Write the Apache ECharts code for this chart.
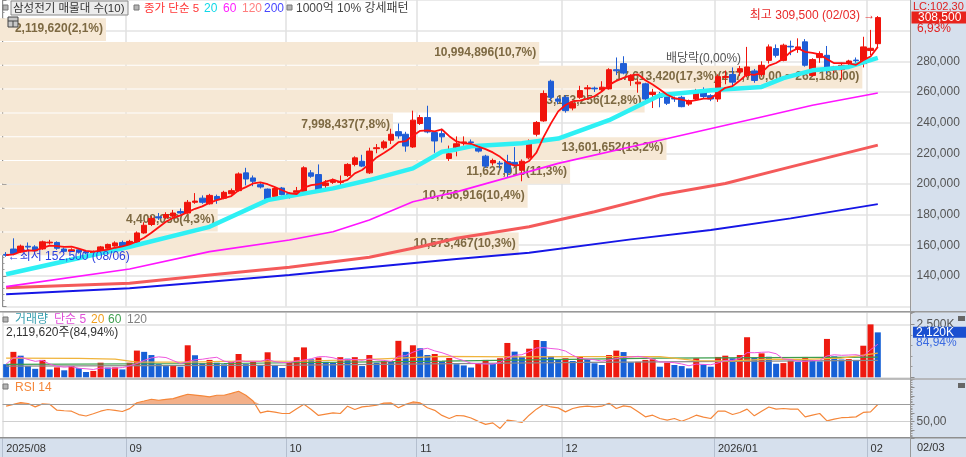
<!DOCTYPE html>
<html><head><meta charset="utf-8">
<script src="https://cdn.jsdelivr.net/npm/echarts@6/dist/echarts.min.js"></script>
<style>
html,body{margin:0;padding:0;background:#fff}
#c{width:966px;height:457px;
background:linear-gradient(#d6e0ed,#d6e0ed) right top/55.5px 100% no-repeat,linear-gradient(#d6e0ed,#d6e0ed) left bottom/100% 19px no-repeat,#fff;}
</style>
</head><body><div id="c"></div>
<script>
// ---------- DATA ----------
const monthTickLabels = ['2025/08','09','10','11','12','2026/01','02'];
const monthKeys = ['2025/08','2025/09','2025/10','2025/11','2025/12','2026/01','2026/02'];
const tradingDays = [
  [6,7,8,11,12,13,14,18,19,20,21,22,25,26,27,28,29],
  [1,2,3,4,5,8,9,10,11,12,15,16,17,18,19,22,23,24,25,26,29,30],
  [1,2,10,13,14,15,16,17,20,21,22,23,24,27,28,29,30,31],
  [3,4,5,6,7,10,11,12,13,14,17,18,19,20,21,24,25,26,27,28],
  [1,2,3,4,5,8,9,10,11,12,15,16,17,18,19,22,23,24,26,29,30],
  [2,5,6,7,8,9,12,13,14,15,16,19,20,21,22,23,26,27,28,29,30],
  [2,3]
];
const opens = [154000,157500,155600,159300,158900,157600,161500,161800,157500,156000,157000,155500,155000,156300,158000,159500,161800,158500,161500,168000,
173500,178500,178000,179000,182000,181000,188000,190700,187000,191800,190700,193600,195600,207200,203900,199500,196600,191800,197300,193600,
194500,195100,207200,206100,198900,201000,201000,205500,212700,214800,207200,223000,223600,228500,234100,232400,224100,239400,243300,233500,
232800,216600,222600,226800,227400,224700,218100,213700,213500,214500,214000,209000,217000,232400,241100,267000,255400,256500,249500,256500,
262000,262500,261400,262000,274500,278500,267500,265300,265300,258300,257600,257600,255800,256500,252100,255400,260900,257600,255400,269500,
271400,273000,270800,273700,271400,280600,288300,280600,289800,287700,292700,270800,282400,283900,274100,274500,278500,280800,278500,287000,291500];
const closes = [153500,154500,159400,158800,156300,162200,162000,158000,156000,157000,155500,155000,155800,158900,160500,161500,159500,162500,168000,173000,
177500,177800,180000,181000,181000,188000,188800,188000,192500,189700,194500,195600,206500,203200,201700,198000,189500,197000,193000,192000,
195500,210500,205000,195800,200600,202400,201700,212700,217000,211600,221400,223600,227400,232400,231300,224700,241600,243300,233900,228000,
230700,219700,226200,227400,227000,221400,211600,215300,213000,207500,212500,214800,227000,240100,259000,256500,254000,247800,252600,260900,
262700,262000,263100,274500,273800,272300,270100,266400,255400,259800,256500,252600,255400,250400,254300,260900,257000,255400,270000,270100,
266400,275200,276300,267500,277400,289400,283900,290500,289400,289400,277400,281100,285000,274100,276300,277400,280200,280400,289400,288500,308500];
const highs = [155500,164500,160400,161800,160000,163000,163500,162500,158500,158000,157500,156500,156500,159500,161000,162500,163000,163500,169000,175000,
179000,181000,181500,183000,184000,189500,194000,192500,193500,193000,195500,197000,207500,210500,205500,200500,197000,198000,198000,194500,
198000,211500,209000,212700,202500,203500,205500,213500,218000,219000,223600,226000,228500,236000,239400,234000,247800,245000,251000,234500,
236000,225000,231000,231000,229000,226000,219000,216500,215000,219000,224000,216000,229000,241000,261000,268000,256500,258000,254000,264000,
264500,263500,267000,275500,282500,283300,271500,268500,266000,262000,260000,258500,257000,257500,255000,262000,263000,258500,271500,274000,
276000,277000,289400,275000,280000,291000,291000,291500,293500,295000,294500,282000,286500,290000,277000,279000,281000,282500,296000,300500,309500];
const lows = [152500,153500,155000,156600,155800,157000,160500,157000,155000,155500,154500,154000,154200,155800,157500,159000,159000,158000,161000,167500,
172500,176500,177000,178000,180000,180500,187000,187000,186500,187000,190000,193000,195000,199000,198500,197000,188500,191000,192500,190500,
193500,194500,204000,195000,195500,200000,197500,204500,211500,211000,206500,220000,222500,226000,229500,221000,223500,238500,233000,220300,
227000,215000,218000,225000,225500,220500,210500,212000,210000,204000,211000,201700,216000,231000,240500,254000,252000,246500,248000,255500,
257000,260000,260500,261500,271000,271500,264000,259500,253000,249500,250000,251500,253500,250000,251000,254500,255500,254000,253500,265000,
262000,270500,269500,266000,270000,278500,282500,280000,284000,285500,276500,270000,279000,272000,272500,268000,276000,278000,276000,284000,289000];
// volume, thousand shares
const volumes = [620,1200,1020,530,400,820,370,470,330,530,430,250,300,690,460,470,370,690,1260,1200,
1050,620,530,550,500,1510,1040,660,820,690,610,720,1100,620,730,580,1180,560,440,720,
950,1410,850,930,730,690,950,880,950,530,1050,690,760,730,1720,1200,1510,1370,1050,1100,
760,910,620,560,460,660,820,630,900,1620,1210,970,1350,1760,1710,1000,820,900,770,960,
850,660,580,1050,1260,1190,710,730,820,850,500,690,580,530,420,900,610,500,960,1020,
900,1050,1890,930,1130,970,640,670,780,720,960,800,750,1810,990,840,860,820,1490,2495.5,2119.62];
const rsi14 = [67.9,70,72.2,71.1,67.1,70.6,70.2,63.2,62.5,62,58,56.3,59,62,64,63,61.6,65,72,74,
76.1,74.9,76,76.8,79.5,82,81,80,79,80.8,80.8,83,85.5,80.8,74,60,62,61,59.3,59.3,
65,70.2,64,57,58.5,60,59.3,67.9,64,67.1,68,69,71.5,71.8,66,70,72.9,71.8,66,63,
57,53.4,56.9,56.5,54,50,46.4,48.2,41.6,51.4,50.2,48.7,57.3,64.4,69.9,67,65.9,61.2,65.2,67,
67.9,67,67.9,71.4,65.2,68.2,67,61.2,55.3,57.3,53.4,51.4,53.4,50.2,53.4,57.3,55,53.4,62,62,
58.1,60.5,64.4,56.5,62,67,64.4,65.2,64.4,64.4,55.3,57.3,59.3,50.6,52.6,54.3,54.7,55.3,60.5,61.2,69.9];
// moving-average lines: [candle index, value]
const ma20Pts = [[0,141000],[17,159000],[28,172000],[36,189400],[45,197100],[50,202500],[56,210100],[60,221000],[62,222500],[64,224500],[71,226500],[76,229600],[83,241600],[90,257800],[97,261100],[104,263300],[107,269000],[111,274100],[116,276300],[120,282200]];
const ma60Pts = [[0,132950],[17,144500],[28,155800],[39,163400],[45,168800],[50,176400],[56,188300],[62,194800],[76,213400],[90,228500],[104,243700],[111,251300],[120,259300]];
const ma120Pts = [[0,132300],[17,135200],[28,140600],[39,145600],[50,152100],[57,159000],[62,164500],[72,172000],[81,181800],[90,192700],[99,200300],[108,211100],[120,225300]];
const ma200Pts = [[0,128000],[17,131900],[28,136200],[39,140600],[50,145600],[62,151000],[72,155100],[86,163800],[97,169900],[108,177500],[120,186800]];
const vma20Pts = [[0,900],[10,890],[15,860],[18,720],[25,720],[32,760],[40,756],[50,850],[60,990],[70,960],[80,974],[90,972],[95,790],[100,773],[105,860],[110,842],[115,900],[120,1136]];
const vma60Pts = [[0,610],[30,650],[60,760],[90,900],[120,950]];
const vma120Pts = [[0,530],[40,570],[80,700],[120,800]];
// price volume profile (bottom -> top)
const profileEdges = [153400,168940,184480,200020,215560,231100,246640,262180,277720,293260,308800];
const profileVolumes = [10573467,4408056,10756916,11627015,13601652,7998437,13153256,17613420,10994896,2119620];
const profilePcts = ['10,3%','4,3%','10,4%','11,3%','13,2%','7,8%','12,8%','17,3%','10,7%','2,1%'];
const dividendIndex = 96;
const padCategories = 4;

// ---------- BUILD ----------
const FONT = '"Liberation Sans","Noto Sans CJK KR",sans-serif';
const fmt = n => Math.round(n).toLocaleString('en-US');
const categories = [];
const monthStart = new Map();
tradingDays.forEach((days, m) => {
  monthStart.set(categories.length, monthTickLabels[m]);
  days.forEach(d => categories.push(monthKeys[m] + '/' + String(d).padStart(2, '0')));
});
const N = categories.length;
for (let i = 0; i < padCategories; i++) categories.push('');
const isMonthStart = i => monthStart.has(i);

const candleData = opens.map((o, i) => [o, closes[i], lows[i], highs[i]]);
const avgN = (arr, n) => arr.map((v, i) => { const s = arr.slice(Math.max(0, i - n + 1), i + 1); return s.reduce((a, b) => a + b, 0) / s.length; });
const ma5 = avgN(closes, 5);
const vma5 = avgN(volumes, 5);
const UP = '#f0140c', DOWN = '#1f5dd6';
const volData = volumes.map((v, i) => ({ value: v, itemStyle: { color: (i > 0 && v > volumes[i - 1]) ? '#ee1a10' : '#1660d6' } }));
const rsiBase = rsi14.map(() => 70);
const rsiOver = rsi14.map(r => Math.max(r - 70, 0));

const maxIdx = profileVolumes.indexOf(Math.max(...profileVolumes));
const profileData = profileVolumes.map((v, k) => {
  let txt = fmt(v) + '(' + profilePcts[k] + ')';
  if (k === maxIdx) txt += '(' + fmt(profileEdges[k + 1]) + ',00 ~ ' + fmt(profileEdges[k]) + ',00)';
  return { value: [profileEdges[k], profileEdges[k + 1], v], label: txt };
});

const chart = echarts.init(document.getElementById('c'), null, { renderer: 'canvas' });
const catAxis = (gi, extra) => Object.assign({
  type: 'category', gridIndex: gi, data: categories, boundaryGap: true,
  axisLine: { show: false }, axisTick: { show: false }, axisLabel: { show: false },
  splitLine: { show: true, interval: i => isMonthStart(i), lineStyle: { color: '#e0e0e0', width: 1.5 } }
}, extra || {});
const valAxisCommon = {
  position: 'right', axisLine: { show: true, lineStyle: { color: '#8c8c8c' } },
  axisTick: { show: true, length: 4, lineStyle: { color: '#8c8c8c' } },
  minorTick: { show: true, splitNumber: 5, length: 2, lineStyle: { color: '#9a9a9a' } }
};
const lbl = (f) => ({ formatter: f, color: '#555', fontSize: 12, margin: 6, fontFamily: FONT });
const sparseLine = (name, pts, xi, yi, color, width, z) => ({
  name, type: 'line', xAxisIndex: xi, yAxisIndex: yi, data: pts, showSymbol: false, symbol: 'none',
  smooth: false, lineStyle: { color, width }, z: z || 4, silent: true
});

const option = {
  animation: false,
  grid: [
    { left: 2.5, right: 55.5, top: 0, height: 306.5, outerBoundsMode: 'none' },
    { left: 2.5, right: 55.5, top: 312, height: 65.3, outerBoundsMode: 'none' },
    { left: 2.5, right: 55.5, top: 379, height: 59.3, outerBoundsMode: 'none' }
  ],
  xAxis: [
    catAxis(0), catAxis(1),
    catAxis(2, {
      axisLabel: { show: true, interval: i => isMonthStart(i), formatter: (v, i) => monthStart.get(i) || '',
        align: 'left', color: '#333', fontSize: 11, margin: 5, fontFamily: FONT },
      axisTick: { show: true, interval: i => isMonthStart(i), length: 19, lineStyle: { color: '#b4bfcf' } }
    }),
    { type: 'value', gridIndex: 0, min: 0, max: 18600000, show: false, position: 'top' }
  ],
  yAxis: [
    Object.assign({ type: 'value', gridIndex: 0, min: 120000, max: 320000, interval: 20000,
      axisLabel: lbl(v => (v >= 140000 && v <= 280000) ? fmt(v) : ''),
      splitLine: { show: true, lineStyle: { color: '#e3e3e3', width: 1.5 } } }, valAxisCommon),
    Object.assign({ type: 'value', gridIndex: 1, min: 0, max: 3080, interval: 2500,
      axisLabel: lbl(v => v === 2500 ? '2,500K' : ''),
      splitLine: { show: true, lineStyle: { color: '#e0e0e0', width: 1.5 } } }, valAxisCommon),
    Object.assign({ type: 'value', gridIndex: 2, min: 30, max: 100, interval: 10,
      axisLabel: lbl(v => v === 50 ? '50,00' : ''), splitLine: { show: false } }, valAxisCommon)
  ],
  series: [
    {
      type: 'custom', name: 'profile', xAxisIndex: 3, yAxisIndex: 0, clip: false, z: 1, silent: true,
      encode: { x: 2, y: [0, 1] },
      data: profileData,
      renderItem: (params, api) => {
        const lo = api.value(0), hi = api.value(1), v = api.value(2);
        const pTop = api.coord([v, hi]);
        const pBot = api.coord([0, lo]);
        const x0 = params.coordSys.x - 2.5;
        const item = profileData[params.dataIndex];
        return { type: 'group', children: [
          { type: 'rect', shape: { x: x0, y: pTop[1] + 1, width: pTop[0] - x0, height: pBot[1] - pTop[1] - 1 },
            style: { fill: '#f6e8d5' } },
          { type: 'text', style: { text: item.label, x: pTop[0] - 3, y: (pTop[1] + pBot[1]) / 2,
            align: 'right', verticalAlign: 'middle', fill: '#7d6942', font: 'bold 12px ' + FONT } }
        ] };
      }
    },
    {
      type: 'candlestick', name: 'price', xAxisIndex: 0, yAxisIndex: 0, data: candleData, barWidth: 6, z: 3,
      itemStyle: { color: UP, color0: DOWN, borderColor: UP, borderColor0: DOWN, borderWidth: 1 },
      markPoint: {
        symbol: 'circle', symbolSize: 1, itemStyle: { color: 'rgba(0,0,0,0)' }, silent: true,
        data: [
          { coord: [categories[N - 1], Math.max(...highs)],
            label: { show: true, position: 'left', distance: 2, formatter: '최고 ' + fmt(Math.max(...highs)) + ' (02/03) →', color: '#e82828', fontSize: 12, fontFamily: FONT } },
          { coord: [categories[0], Math.min(...lows)],
            label: { show: true, position: 'right', distance: 1, formatter: '←최저 ' + fmt(Math.min(...lows)) + ' (08/06)', color: '#2a3fe0', fontSize: 12, fontFamily: FONT } },
          { coord: [categories[dividendIndex], highs[dividendIndex]],
            label: { show: true, position: 'top', distance: 22, formatter: '배당락(0,00%)', color: '#555', fontSize: 12, fontFamily: FONT } }
        ]
      }
    },
    sparseLine('MA200', ma200Pts, 0, 0, '#1616e6', 2, 4),
    sparseLine('MA120', ma120Pts, 0, 0, '#f45a5a', 3, 4),
    sparseLine('MA60', ma60Pts, 0, 0, '#ff14ff', 1.6, 4),
    sparseLine('MA20', ma20Pts, 0, 0, '#2ef0f4', 4.5, 4),
    { name: 'MA5', type: 'line', xAxisIndex: 0, yAxisIndex: 0, data: ma5, showSymbol: false, symbol: 'none',
      lineStyle: { color: '#ff1010', width: 1.8 }, z: 5, silent: true },
    { name: 'volume', type: 'bar', xAxisIndex: 1, yAxisIndex: 1, data: volData, barWidth: 6, z: 2, silent: true },
    sparseLine('VMA120', vma120Pts, 1, 1, '#8a8a8a', 1.2, 4),
    sparseLine('VMA60', vma60Pts, 1, 1, '#3c9e4c', 1.2, 4),
    sparseLine('VMA20', vma20Pts, 1, 1, '#f0b43c', 1.2, 4),
    { name: 'VMA5', type: 'line', xAxisIndex: 1, yAxisIndex: 1, data: vma5, showSymbol: false, symbol: 'none',
      lineStyle: { color: '#ee55dd', width: 1 }, z: 5, silent: true },
    { name: 'rsiBase', type: 'line', xAxisIndex: 2, yAxisIndex: 2, data: rsiBase, stack: 'r', showSymbol: false, symbol: 'none',
      lineStyle: { width: 0, opacity: 0 }, silent: true, z: 2 },
    { name: 'rsiOver', type: 'line', xAxisIndex: 2, yAxisIndex: 2, data: rsiOver, stack: 'r', showSymbol: false, symbol: 'none',
      lineStyle: { width: 0, opacity: 0 }, areaStyle: { color: '#f3b089', opacity: 1 }, silent: true, z: 2 },
    { name: 'RSI', type: 'line', xAxisIndex: 2, yAxisIndex: 2, data: rsi14, showSymbol: false, symbol: 'none',
      lineStyle: { color: '#f5873a', width: 1.2 }, z: 4, silent: true,
      markLine: { silent: true, symbol: 'none', label: { show: false },
        data: [ { yAxis: 70, lineStyle: { color: '#9c9c9c', width: 1.2, type: 'solid' } },
                { yAxis: 50, lineStyle: { color: '#d0d0d0', width: 1, type: 'solid' } } ] } }
  ]
};
chart.setOption(option);

// ---------- TEXT / FRAME ----------
const last = closes[N - 1], prev = closes[N - 2];
const pct = ((last / prev - 1) * 100).toFixed(2).replace('.', ',') + '%';
const yLast = chart.convertToPixel({ yAxisIndex: 0 }, last);
const yVol = chart.convertToPixel({ yAxisIndex: 1 }, volumes[N - 1]);
const volPct = (volumes[N - 1] / volumes[N - 2] * 100).toFixed(2).replace('.', ',') + '%';
const T = (text, x, y, fill, size) => ({ type: 'text', z: 56, style: { text, x, y, fill, font: (size || 12) + 'px ' + FONT, verticalAlign: 'middle' } });
const sq = (x, y) => ({ type: 'rect', z: 50, shape: { x, y, width: 5, height: 5 }, style: { fill: '#b5b5b5', stroke: '#777', lineWidth: 1 } });
const hl = (y, color, w) => ({ type: 'line', z: 60, shape: { x1: 0, y1: y, x2: 966, y2: y }, style: { stroke: color, lineWidth: w } });

chart.setOption({ graphic: [
  hl(311.7, '#999', 1.5), hl(379, '#aaa', 1.5), hl(437.8, '#8f8f8f', 1.5),
  { type: 'line', z: 60, shape: { x1: 910.5, y1: 0, x2: 910.5, y2: 457 }, style: { stroke: '#999', lineWidth: 1 } },
  // top legend
  sq(3, 5),
  { type: 'rect', z: 49, shape: { x: 11, y: 1, width: 117, height: 14 }, style: { fill: '#ececec', stroke: '#8a8a8a', lineWidth: 1 } },
  T('삼성전기 매물대 수(10)', 13, 8.5, '#333', 11.5),
  sq(134, 5),
  T('종가 단순 5', 144, 8.5, '#ff3535', 11.5),
  T('20', 204, 8.5, '#10d8e8'),
  T('60', 223, 8.5, '#ff20ff'),
  T('120', 242, 8.5, '#ff7f7f'),
  T('200', 264, 8.5, '#4848ff'),
  sq(287, 5),
  T('1000억 10% 강세패턴', 296, 8.5, '#444'),
  { type: 'rect', z: 50, shape: { x: 8, y: 17, width: 10, height: 10 }, style: { fill: '#c8c8c8', stroke: '#444', lineWidth: 1 } },
  { type: 'line', z: 51, shape: { x1: 8, y1: 21, x2: 18, y2: 21 }, style: { stroke: '#444', lineWidth: 1 } },
  { type: 'line', z: 51, shape: { x1: 13, y1: 21, x2: 13, y2: 27 }, style: { stroke: '#444', lineWidth: 1 } },
  // volume legend
  sq(3, 317),
  T('거래량', 15, 320, '#3aa0b0'),
  T('단순 5', 54, 320, '#e050d8'),
  T('20', 91, 320, '#f0a020'),
  T('60', 108, 320, '#40a050'),
  T('120', 127, 320, '#808080'),
  T(fmt(volumes[N - 1] * 1000) + '주(' + volPct + ')', 6, 332.5, '#333'),
  // RSI legend
  sq(3, 384),
  T('RSI 14', 15, 387.5, '#f5873a'),
  // right panel: price
  T('LC:102,30', 913, yLast - 11, '#e02020', 11),
  { type: 'rect', z: 55, shape: { x: 911.5, y: yLast - 6, width: 55, height: 12 }, style: { fill: '#e8231c' } },
  T(fmt(last), 918, yLast + 0.5, '#fff'),
  T(pct, 917, yLast + 11, '#e02020'),
  // right panel: volume
  { type: 'rect', z: 55, shape: { x: 913, y: yVol - 5.5, width: 53, height: 11 }, style: { fill: '#1a4fd0' } },
  T(fmt(volumes[N - 1]) + 'K', 916, yVol, '#fff'),
  T(volPct, 916, yVol + 10, '#3a6ae0'),
  { type: 'rect', z: 55, shape: { x: 958, y: 316, width: 7, height: 5 }, style: { fill: '#666' } },
  { type: 'rect', z: 55, shape: { x: 958, y: 383, width: 7, height: 5 }, style: { fill: '#666' } },
  // right panel: date
  T('02/03', 917, 448, '#333', 11)
] });
</script>
</body></html>
